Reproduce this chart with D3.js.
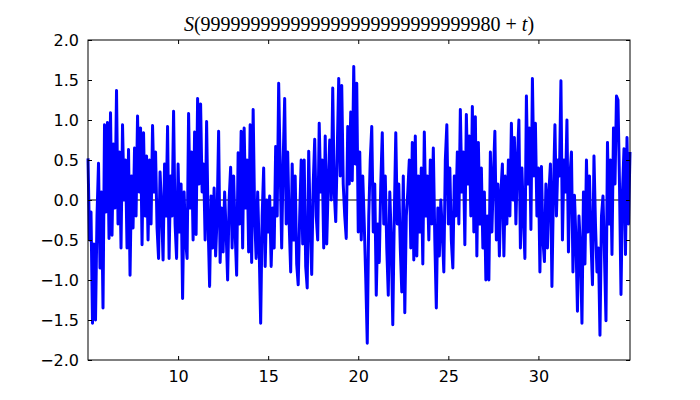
<!DOCTYPE html>
<html>
<head>
<meta charset="utf-8">
<script src="https://cdn.jsdelivr.net/npm/d3@7"></script>
<style>
  body { margin: 0; background: white; }
</style>
</head>
<body>
<div id="chart"></div>
<script>
const tStart = 5;
const tStep = 1 / 12;
const values = [
  0.52, -0.5, -0.15, -1.54, -0.55, -1.5, -0.2, 0.46, -0.85, 0.1,
  -1.35, 0.94, -0.15, 0.97, -0.48, 1.09, -0.44, 0.7, -0.1, 1.37,
  -0.3, 0.6, -0.6, 0.94, 0.0, 0.5, -0.6, 0.63, -0.94, 0.3,
  -0.35, 0.65, -0.2, 1.05, 0.1, 0.9, -0.56, 0.84, -0.2, 0.55,
  -0.5, 0.5, -0.3, 0.93, 0.1, 0.6, -0.35, -0.73, 0.35, -0.1,
  -0.75, 0.45, -0.2, 0.92, -0.73, 0.3, -0.2, 1.11, -0.3, -0.73,
  0.45, -0.4, 0.2, -1.23, 0.1, -0.5, -0.73, 1.08, -0.1, 0.6,
  -0.5, 0.85, -0.43, 1.27, 0.2, 1.2, 0.1, 0.45, -0.5, 0.98,
  -0.3, -1.08, 0.05, -0.6, 0.15, -0.7, -0.2, 0.86, -0.78, -0.1,
  -0.65, 0.1, -0.4, -1.0, 0.0, 0.41, -0.6, 0.3, -0.4, -0.94,
  0.59, -0.3, 0.86, -0.6, 0.9, -0.1, 0.5, -0.65, 0.94, -0.78,
  1.13, -0.2, -0.73, 0.1, -0.6, -1.54, -0.2, 0.4, -0.83, 0.0,
  -0.4, 0.05, -0.83, -0.1, -0.6, 0.67, -0.2, 1.46, 0.4, -0.6,
  0.5, 1.27, -0.3, 0.6, -0.3, -0.9, 0.45, -0.5, 0.3, -0.8,
  -1.06, -0.2, 0.5, -0.55, 0.5, -0.83, -1.1, 0.61, -0.3, -0.93,
  0.2, 0.76, -0.2, -0.5, 0.96, 0.1, 0.5, -0.6, 0.8, -0.55,
  0.2, 0.75, 0.0, 1.4, 0.1, -0.27, 0.6, 1.52, 0.3, 1.43,
  0.2, -0.2, -0.48, 0.92, 0.2, 1.1, 0.24, 1.67, 0.45, 1.46,
  -0.4, 0.6, -0.5, 0.3, -0.3, -0.98, -1.79, -0.2, 0.5, 0.92,
  -0.4, 0.2, -1.19, -0.3, -0.78, 0.2, 0.84, -0.3, 0.3, -0.6,
  -1.19, 0.1, -0.5, -1.56, -0.2, 0.84, -0.3, 0.2, -0.6, -1.15,
  0.3, -1.41, -0.2, 0.1, 0.5, -0.6, 0.72, -0.75, 0.8, -0.7,
  0.3, -0.4, 0.4, -0.8, 0.85, -0.2, 0.3, -0.5, 0.5, -0.3,
  0.65, -0.5, -1.35, -0.1, -0.7, 0.0, -0.4, -0.9, 0.5, 0.94,
  -0.3, 0.4, -0.5, -0.85, 0.3, -0.2, 0.6, -0.3, 1.13, 0.1,
  0.6, -0.56, 1.07, 0.2, 0.8, -0.2, 1.17, -0.4, 1.04, -0.7,
  0.72, -0.3, 0.4, -0.6, 0.1, -1.0, -0.2, -1.0, 0.6, -0.4,
  0.3, 0.86, -0.5, 0.2, -0.7, 0.1, 0.45, -0.7, 0.3, -0.3,
  0.5, -0.2, 0.96, 0.0, 0.78, -0.3, 0.5, 1.0, -0.6, 0.4,
  -0.2, -0.73, 1.3, 0.2, 0.9, -0.37, 1.52, 0.3, 0.96, -0.2,
  0.4, -0.9, 0.42, -0.5, -0.77, 0.2, -0.6, 0.1, 0.45, -1.08,
  0.1, 0.94, -0.2, 0.5, 0.3, 1.49, -0.5, 0.5, 0.1, 1.0,
  -0.65, 0.3, 0.6, -0.9, 0.06, -0.5, -1.39, -0.2, -0.6, -1.54,
  0.1, -0.8, 0.5, -0.4, 0.3, -0.5, -1.06, 0.55, -0.3, -0.9,
  -0.6, -1.69, -0.2, 0.05, -0.7, -1.51, 0.72, -0.3, 0.5, -0.68,
  0.9, 0.2, 1.3, 1.25, 0.2, -1.18, 0.1, 0.64, -0.68, 0.78,
  -0.3, 0.6
];
const xTicks = [10, 15, 20, 25, 30];
const yTicks = [-2.0, -1.5, -1.0, -0.5, 0.0, 0.5, 1.0, 1.5, 2.0];
const titleNumber = '999999999999999999999999999980';

const data = values.map((v, i) => ({ t: tStart + i * tStep, v }));

const width = 700;
const height = 400;
const margin = { top: 40, right: 70, bottom: 40, left: 88 };

const x = d3.scaleLinear()
    .domain(d3.extent(data, d => d.t))
    .range([margin.left, width - margin.right]);

const y = d3.scaleLinear()
    .domain([-2, 2])
    .range([height - margin.bottom, margin.top]);

const svg = d3.select('#chart').append('svg')
    .attr('width', width)
    .attr('height', height)
    .style('font-family', '"DejaVu Sans", sans-serif');

// zero line
svg.append('line')
    .attr('x1', x.range()[0])
    .attr('x2', x.range()[1])
    .attr('y1', y(0))
    .attr('y2', y(0))
    .attr('stroke', 'black')
    .attr('stroke-width', 1);

const line = d3.line()
    .x(d => x(d.t))
    .y(d => y(d.v));

svg.append('path')
    .datum(data)
    .attr('fill', 'none')
    .attr('stroke', '#0000ff')
    .attr('stroke-width', 3)
    .attr('stroke-linejoin', 'round')
    .attr('d', line);

// axes, ticks pointing inward on all four sides
const axisBottom = d3.axisBottom(x).tickValues(xTicks).tickSizeInner(-4).tickSizeOuter(0).tickPadding(11);
const axisTop = d3.axisTop(x).tickValues(xTicks).tickSizeInner(-4).tickSizeOuter(0).tickFormat('');
const axisLeft = d3.axisLeft(y).tickValues(yTicks).tickSizeInner(-4).tickSizeOuter(0).tickPadding(9)
    .tickFormat(d3.format('.1f'));
const axisRight = d3.axisRight(y).tickValues(yTicks).tickSizeInner(-4).tickSizeOuter(0).tickFormat('');

svg.append('g')
    .attr('transform', `translate(0,${y.range()[0]})`)
    .call(axisBottom);
svg.append('g')
    .attr('transform', `translate(0,${y.range()[1]})`)
    .call(axisTop);
svg.append('g')
    .attr('transform', `translate(${x.range()[0]},0)`)
    .call(axisLeft);
svg.append('g')
    .attr('transform', `translate(${x.range()[1]},0)`)
    .call(axisRight);

svg.selectAll('.domain').remove();
svg.selectAll('.tick line').attr('stroke', 'black');
svg.selectAll('.tick text')
    .attr('font-size', 16)
    .attr('font-family', '"DejaVu Sans", sans-serif')
    .attr('fill', 'black');

// frame
svg.append('rect')
    .attr('x', x.range()[0])
    .attr('y', y.range()[1])
    .attr('width', x.range()[1] - x.range()[0])
    .attr('height', y.range()[0] - y.range()[1])
    .attr('fill', 'none')
    .attr('stroke', 'black')
    .attr('stroke-width', 1);

// title
const title = svg.append('text')
    .attr('x', (x.range()[0] + x.range()[1]) / 2)
    .attr('y', 31)
    .attr('text-anchor', 'middle')
    .attr('font-family', '"Liberation Serif", serif')
    .attr('font-size', 20);
title.append('tspan').attr('font-style', 'italic').text('S');
title.append('tspan').text('(' + titleNumber + ' + ');
title.append('tspan').attr('font-style', 'italic').text('t');
title.append('tspan').text(')');
</script>
</body>
</html>
